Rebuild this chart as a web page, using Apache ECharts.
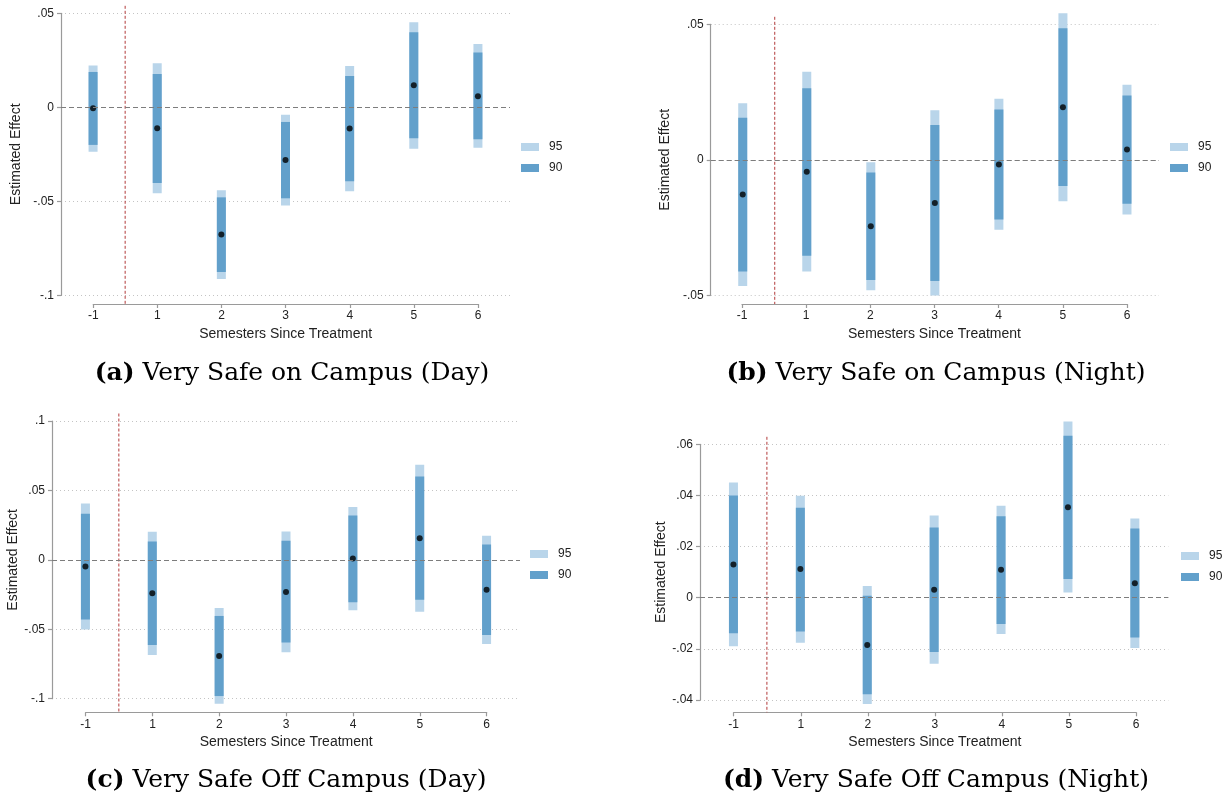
<!DOCTYPE html>
<html>
<head>
<meta charset="utf-8">
<title>Event study: feeling very safe, by semester since treatment</title>
<script src="https://cdn.jsdelivr.net/npm/echarts@6/dist/echarts.min.js"></script>
<style>
  html, body { margin: 0; padding: 0; background: #ffffff; }
  #chart { width: 1225px; height: 802px; }
</style>
</head>
<body>
<div id="chart"></div>
<script>
// Semesters relative to treatment (semester 0 is the omitted reference period)
const semesterLabels = ['-1', '1', '2', '3', '4', '5', '6'];

// (a) Very safe on campus, daytime
const onDayEst   = [-0.0005, -0.0112, -0.0677, -0.0280, -0.0113, 0.0117, 0.0059];
const onDayLo95  = [-0.0236, -0.0457, -0.0913, -0.0523, -0.0447, -0.0220, -0.0215];
const onDayHi95  = [ 0.0223,  0.0234, -0.0441, -0.0039,  0.0220,  0.0452,  0.0337];
const onDayLo90  = [-0.0200, -0.0402, -0.0876, -0.0484, -0.0394, -0.0165, -0.0170];
const onDayHi90  = [ 0.0188,  0.0177, -0.0479, -0.0078,  0.0167,  0.0399,  0.0291];

// (b) Very safe on campus, night
const onNightEst  = [-0.0128, -0.0044, -0.0245, -0.0159, -0.0017, 0.0194, 0.0038];
const onNightLo95 = [-0.0466, -0.0412, -0.0481, -0.0501, -0.0258, -0.0153, -0.0202];
const onNightHi95 = [ 0.0209,  0.0325, -0.0009,  0.0183,  0.0225,  0.0541,  0.0277];
const onNightLo90 = [-0.0412, -0.0354, -0.0444, -0.0447, -0.0220, -0.0097, -0.0162];
const onNightHi90 = [ 0.0155,  0.0264, -0.0047,  0.0128,  0.0186,  0.0485,  0.0237];

// (c) Very safe off campus, daytime
const offDayEst   = [-0.0048, -0.0240, -0.0692, -0.0231, 0.0010, 0.0156, -0.0216];
const offDayLo95  = [-0.0502, -0.0685, -0.1036, -0.0666, -0.0363, -0.0373, -0.0606];
const offDayHi95  = [ 0.0406,  0.0202, -0.0346,  0.0204,  0.0380,  0.0685,  0.0173];
const offDayLo90  = [-0.0430, -0.0613, -0.0981, -0.0596, -0.0305, -0.0288, -0.0541];
const offDayHi90  = [ 0.0332,  0.0132, -0.0404,  0.0137,  0.0320,  0.0601,  0.0111];

// (d) Very safe off campus, night
const offNightEst  = [0.0130, 0.0112, -0.0185, 0.0031, 0.0109, 0.0354, 0.0057];
const offNightLo95 = [-0.0190, -0.0176, -0.0416, -0.0258, -0.0142, 0.0020, -0.0197];
const offNightHi95 = [ 0.0451,  0.0399,  0.0046,  0.0322,  0.0360, 0.0689,  0.0310];
const offNightLo90 = [-0.0139, -0.0132, -0.0378, -0.0212, -0.0103, 0.0073, -0.0156];
const offNightHi90 = [ 0.0400,  0.0352,  0.0008,  0.0275,  0.0319, 0.0633,  0.0271];

// Y-axis tick values for each panel
const yTicksA = [-0.1, -0.05, 0, 0.05];
const yTicksB = [-0.05, 0, 0.05];
const yTicksC = [-0.1, -0.05, 0, 0.05, 0.1];
const yTicksD = [-0.04, -0.02, 0, 0.02, 0.04, 0.06];

// Treatment begins between semester -1 and semester 1
const treatmentCut = 0.5;

const ciLevels = ['95', '90'];
const captionTags  = ['(a)', '(b)', '(c)', '(d)'];
const captionTexts = ['Very Safe on Campus (Day)', 'Very Safe on Campus (Night)',
                      'Very Safe Off Campus (Day)', 'Very Safe Off Campus (Night)'];
const xTitle = 'Semesters Since Treatment';
const yTitle = 'Estimated Effect';

// ---- styling ----
const LIGHT = '#b9d5ea';
const DARK = '#62a0cb';
const AXIS_GREY = '#9a9a9a';
const SANS = '"Liberation Sans", Arial, sans-serif';
const SERIF = '"DejaVu Serif", "Liberation Serif", serif';
const BAR_W = 9;

// pixel layout of each panel (plot area spans exactly the labelled tick range)
const layouts = [
  { left: 61,    top: 13.3,  width: 449,   height: 282,   axisY: 304,   xFirst: 93.3,  xLast: 478,    nameGap: 38, legend: [521, 141],  caption: [292, 373] },
  { left: 710.7, top: 24.3,  width: 448.3, height: 271,   axisY: 304,   xFirst: 742,   xLast: 1127,   nameGap: 39, legend: [1170, 141], caption: [936, 373] },
  { left: 52,    top: 421,   width: 468,   height: 277.7, axisY: 712.3, xFirst: 85.7,  xLast: 486.7,  nameGap: 27, legend: [530, 548],  caption: [286, 780] },
  { left: 700,   top: 444.3, width: 468.3, height: 255.7, axisY: 712.3, xFirst: 733.7, xLast: 1136,   nameGap: 25, legend: [1181, 550], caption: [936, 780] }
];

const panels = [
  { est: onDayEst,    lo95: onDayLo95,    hi95: onDayHi95,    lo90: onDayLo90,    hi90: onDayHi90,    ticks: yTicksA },
  { est: onNightEst,  lo95: onNightLo95,  hi95: onNightHi95,  lo90: onNightLo90,  hi90: onNightHi90,  ticks: yTicksB },
  { est: offDayEst,   lo95: offDayLo95,   hi95: offDayHi95,   lo90: offDayLo90,   hi90: offDayHi90,   ticks: yTicksC },
  { est: offNightEst, lo95: offNightLo95, hi95: offNightHi95, lo90: offNightLo90, hi90: offNightHi90, ticks: yTicksD }
];

// Stata-style number labels: .05, -.1, 0
function shortNum(v) {
  const s = String(+(+v).toFixed(4));
  return s.replace(/^(-?)0\./, '$1.');
}

function intervalBar(color) {
  return function (params, api) {
    const x = api.value(0);
    const top = api.coord([x, api.value(2)]);
    const bottom = api.coord([x, api.value(1)]);
    return {
      type: 'rect',
      shape: { x: top[0] - BAR_W / 2, y: top[1], width: BAR_W, height: bottom[1] - top[1] },
      style: { fill: color }
    };
  };
}

const grid = [], xAxis = [], yAxis = [], series = [], legend = [], graphic = [];

panels.forEach(function (p, i) {
  const L = layouts[i];
  const plotIdx = i * 2;
  const axisIdx = i * 2 + 1;
  const yMin = p.ticks[0];
  const yMax = p.ticks[p.ticks.length - 1];
  const step = +(p.ticks[1] - p.ticks[0]).toFixed(4);

  // plot area
  grid.push({ left: L.left, top: L.top, width: L.width, height: L.height, containLabel: false });
  xAxis.push({
    type: 'value', gridIndex: plotIdx, min: -0.5, max: semesterLabels.length - 0.5,
    show: false, splitLine: { show: false }
  });
  yAxis.push({
    type: 'value', gridIndex: plotIdx, min: yMin, max: yMax, interval: step,
    axisLine: { show: true, onZero: false, lineStyle: { color: AXIS_GREY, width: 1.2 } },
    axisTick: { show: true, length: 4, lineStyle: { color: AXIS_GREY, width: 1.2 } },
    axisLabel: { fontSize: 12, color: '#222', fontFamily: SANS, margin: 7, formatter: shortNum },
    splitLine: { show: true, lineStyle: { color: '#c4c4c4', type: [1, 3], width: 1 } },
    name: yTitle, nameLocation: 'middle', nameGap: L.nameGap,
    nameTextStyle: { fontSize: 14, color: '#222', fontFamily: SANS }
  });

  // x axis drawn only across the semester ticks
  grid.push({ left: L.xFirst, top: L.axisY - 10, width: L.xLast - L.xFirst, height: 10 });
  xAxis.push({
    type: 'category', gridIndex: axisIdx, data: semesterLabels, boundaryGap: false,
    axisLine: { show: true, onZero: false, lineStyle: { color: AXIS_GREY, width: 1.2 } },
    axisTick: { show: true, length: 4, lineStyle: { color: AXIS_GREY, width: 1.2 } },
    axisLabel: { fontSize: 12, color: '#222', fontFamily: SANS, margin: 6 },
    splitLine: { show: false },
    name: xTitle, nameLocation: 'middle', nameGap: 23,
    nameTextStyle: { fontSize: 14, color: '#222', fontFamily: SANS }
  });
  yAxis.push({ type: 'value', gridIndex: axisIdx, show: false, splitLine: { show: false } });

  const idx = semesterLabels.map(function (_, k) { return k; });

  // treatment marker and zero reference line
  series.push({
    type: 'custom', name: 'treatment', xAxisIndex: plotIdx, yAxisIndex: plotIdx,
    data: [[treatmentCut]], silent: true, z: 1,
    renderItem: function (params, api) {
      const top = api.coord([api.value(0), yMax]);
      return {
        type: 'line',
        shape: { x1: top[0], y1: top[1] - 7.5, x2: top[0], y2: L.axisY },
        style: { stroke: '#b23a3a', lineWidth: 1, lineDash: [3, 2] }
      };
    },
    markLine: {
      silent: true, symbol: ['none', 'none'], label: { show: false },
      lineStyle: { color: '#7d7d7d', type: [5, 3], width: 1 },
      data: [{ yAxis: 0 }]
    }
  });

  series.push({
    type: 'custom', name: ciLevels[0], xAxisIndex: plotIdx, yAxisIndex: plotIdx, z: 2,
    itemStyle: { color: LIGHT },
    encode: { x: 0, y: [1, 2] },
    data: idx.map(function (k) { return [k, p.lo95[k], p.hi95[k]]; }),
    renderItem: intervalBar(LIGHT)
  });
  series.push({
    type: 'custom', name: ciLevels[1], xAxisIndex: plotIdx, yAxisIndex: plotIdx, z: 3,
    itemStyle: { color: DARK },
    encode: { x: 0, y: [1, 2] },
    data: idx.map(function (k) { return [k, p.lo90[k], p.hi90[k]]; }),
    renderItem: intervalBar(DARK)
  });
  series.push({
    type: 'scatter', name: 'estimate', xAxisIndex: plotIdx, yAxisIndex: plotIdx, z: 4,
    symbol: 'circle', symbolSize: 6, itemStyle: { color: '#000' },
    data: idx.map(function (k) { return [k, p.est[k]]; })
  });

  legend.push({
    data: ciLevels, orient: 'vertical', left: L.legend[0], top: L.legend[1],
    icon: 'rect', itemWidth: 18, itemHeight: 8, itemGap: 9, padding: 0,
    selectedMode: false,
    textStyle: { fontSize: 12, color: '#222', fontFamily: SANS, padding: [0, 0, 0, 5] }
  });

  graphic.push({
    type: 'text', x: L.caption[0], y: L.caption[1], silent: true,
    style: {
      text: '{b|' + captionTags[i] + '}{n| ' + captionTexts[i] + '}',
      textAlign: 'center', textVerticalAlign: 'middle', fill: '#000',
      rich: {
        b: { fontFamily: SERIF, fontSize: 25, fontWeight: 'bold', fill: '#000' },
        n: { fontFamily: SERIF, fontSize: 25, fill: '#000' }
      }
    }
  });
});

const chart = echarts.init(document.getElementById('chart'), null, { renderer: 'canvas' });
chart.setOption({
  animation: false,
  backgroundColor: '#ffffff',
  grid: grid,
  xAxis: xAxis,
  yAxis: yAxis,
  legend: legend,
  series: series,
  graphic: graphic
});
</script>
</body>
</html>
